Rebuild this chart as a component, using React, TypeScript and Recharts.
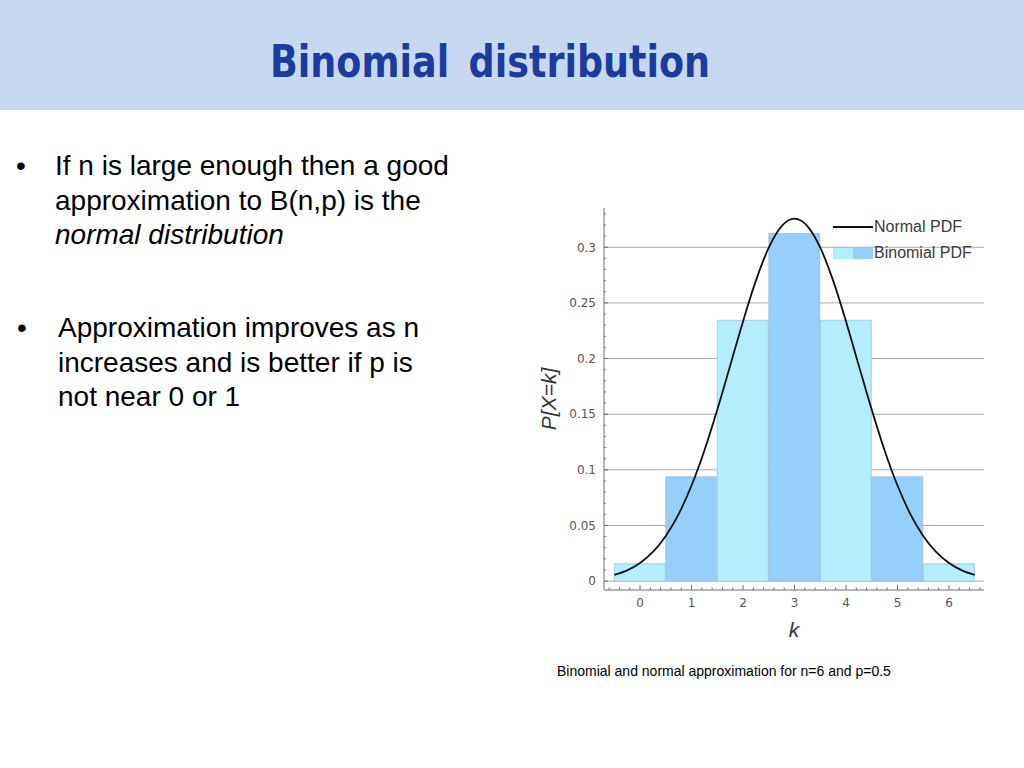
import React from 'react'
import {
  ComposedChart,
  Bar,
  Line,
  XAxis,
  YAxis,
  CartesianGrid,
  Legend,
  Cell,
} from 'recharts'

// binomial n=6, p=0.5
const kValues = [0, 1, 2, 3, 4, 5, 6]
const binomialPdf = [0.0156, 0.0938, 0.2344, 0.3125, 0.2344, 0.0938, 0.0156]

// normal approximation
const curveX = [
  -0.5, -0.25, 0, 0.25, 0.5, 0.75, 1, 1.25, 1.5, 1.75, 2, 2.25, 2.5, 2.75, 3,
  3.25, 3.5, 3.75, 4, 4.25, 4.5, 4.75, 5, 5.25, 5.5, 5.75, 6, 6.25, 6.5,
]
const normalPdf = [
  0.0055, 0.0096, 0.0162, 0.0262, 0.0406, 0.0602, 0.0859, 0.1174, 0.1539, 0.1935,
  0.2334, 0.27, 0.2997, 0.319, 0.3257, 0.319, 0.2997, 0.27, 0.2334, 0.1935, 0.1539,
  0.1174, 0.0859, 0.0602, 0.0406, 0.0262, 0.0162, 0.0096, 0.0055,
]

// labelled ticks
const xTicks = [0, 1, 2, 3, 4, 5, 6]
const yTicks = [0, 0.05, 0.1, 0.15, 0.2, 0.25, 0.3]
// every tick mark on the axes (labelled + minor)
const xAllTicks = [
  -0.6, -0.4, -0.2, 0, 0.2, 0.4, 0.6, 0.8, 1, 1.2, 1.4, 1.6, 1.8, 2, 2.2, 2.4, 2.6,
  2.8, 3, 3.2, 3.4, 3.6, 3.8, 4, 4.2, 4.4, 4.6, 4.8, 5, 5.2, 5.4, 5.6, 5.8, 6, 6.2,
  6.4, 6.6,
]
const yAllTicks = [
  0, 0.01, 0.02, 0.03, 0.04, 0.05, 0.06, 0.07, 0.08, 0.09, 0.1, 0.11, 0.12, 0.13,
  0.14, 0.15, 0.16, 0.17, 0.18, 0.19, 0.2, 0.21, 0.22, 0.23, 0.24, 0.25, 0.26, 0.27,
  0.28, 0.29, 0.3, 0.31, 0.32, 0.33,
]

const X_DOMAIN: [number, number] = [-0.7, 6.68]
const Y_DOMAIN: [number, number] = [-0.008, 0.3353]

const LIGHT = '#b4eefc'
const DARK = '#96d0fa'
const BAR_FILLS = [LIGHT, DARK]
const AXIS = '#6e6e6e'
const SANS = "'Liberation Sans', Arial, sans-serif"
const TICK_FONT = { fill: '#555', fontSize: 12, fontFamily: "'DejaVu Sans', sans-serif" }

const barData = kValues.map((k, i) => ({ k, p: binomialPdf[i] }))
const curveData = curveX.map((x, i) => ({ x, pdf: normalPdf[i] }))

// tickSize/tickMargin are 0, so x,y land on the axis line; marks point into the plot
function XTick(props: any) {
  const { x, y, payload } = props
  const major = xTicks.includes(payload.value)
  return (
    <g>
      <line x1={x} y1={y} x2={x} y2={y - (major ? 5 : 2.5)} stroke={AXIS} strokeWidth={1} />
      {major && (
        <text x={x} y={y + 8} dy="0.71em" textAnchor="middle" {...TICK_FONT}>
          {payload.value}
        </text>
      )}
    </g>
  )
}

function YTick(props: any) {
  const { x, y, payload } = props
  const major = yTicks.includes(payload.value)
  return (
    <g>
      <line x1={x} y1={y} x2={x + (major ? 4 : 2)} y2={y} stroke={AXIS} strokeWidth={1} />
      {major && (
        <text x={x - 8} y={y} dy="0.355em" textAnchor="end" {...TICK_FONT}>
          {payload.value}
        </text>
      )}
    </g>
  )
}

function LegendContent() {
  const row = { display: 'flex', alignItems: 'center', height: 26 } as const
  return (
    <div style={{ fontFamily: SANS, fontSize: 16, color: '#3a3a3a', lineHeight: 1 }}>
      <div style={row}>
        <span style={{ width: 40, borderTop: '2px solid #111', marginRight: 1 }} />
        <span>Normal PDF</span>
      </div>
      <div style={row}>
        <span style={{ width: 20, height: 11, background: LIGHT }} />
        <span style={{ width: 20, height: 11, background: DARK, marginRight: 1 }} />
        <span>Binomial PDF</span>
      </div>
    </div>
  )
}

function BinomialChart() {
  return (
    <ComposedChart
      width={480}
      height={462}
      data={barData}
      margin={{ top: 18, right: 16, bottom: 10, left: 24 }}
      barCategoryGap={0}
      barGap={0}
    >
      {/* grid follows the hidden curve axis, which only carries the labelled ticks */}
      <CartesianGrid vertical={false} yAxisId="curve" syncWithTicks stroke="#a9a9a9" />
      <XAxis
        dataKey="k"
        type="number"
        domain={X_DOMAIN}
        allowDataOverflow
        ticks={xAllTicks}
        interval={0}
        height={52}
        tickSize={0}
        tickMargin={0}
        tickLine={false}
        axisLine={{ stroke: AXIS }}
        tick={<XTick />}
        label={{
          value: 'k',
          position: 'insideBottom',
          offset: 5,
          style: { fontFamily: SANS, fontStyle: 'italic', fontSize: 21, fill: '#333' },
        }}
      />
      <XAxis xAxisId="curve" dataKey="x" type="number" domain={X_DOMAIN} allowDataOverflow hide />
      <YAxis
        type="number"
        domain={Y_DOMAIN}
        allowDataOverflow
        ticks={yAllTicks}
        interval={0}
        width={60}
        tickSize={0}
        tickMargin={0}
        tickLine={false}
        axisLine={{ stroke: AXIS }}
        tick={<YTick />}
        label={{
          value: 'P[X=k]',
          angle: -90,
          position: 'insideLeft',
          offset: 5,
          style: {
            textAnchor: 'middle',
            fontFamily: SANS,
            fontStyle: 'italic',
            fontSize: 21,
            fill: '#333',
          },
        }}
      />
      <YAxis
        yAxisId="curve"
        type="number"
        domain={Y_DOMAIN}
        allowDataOverflow
        ticks={yTicks}
        interval={0}
        hide
      />
      <Legend
        layout="horizontal"
        verticalAlign="middle"
        align="center"
        content={LegendContent}
        wrapperStyle={{ position: 'absolute', top: 24, left: 313, width: 170 }}
      />
      <Bar dataKey="p" name="Binomial PDF" stroke="#97bcd6" strokeWidth={0.7} isAnimationActive={false}>
        {barData.map((d, i) => (
          <Cell key={`bar-${d.k}`} fill={BAR_FILLS[i % 2]} />
        ))}
      </Bar>
      <Line
        xAxisId="curve"
        yAxisId="curve"
        data={curveData}
        dataKey="pdf"
        name="Normal PDF"
        type="monotone"
        stroke="#111"
        strokeWidth={1.8}
        dot={false}
        activeDot={false}
        isAnimationActive={false}
      />
    </ComposedChart>
  )
}

export default function App() {
  const bulletText = { position: 'absolute', fontFamily: SANS, fontSize: 28, lineHeight: '34.5px', color: '#000' } as const
  return (
    <div style={{ position: 'absolute', left: 0, top: 0, width: 1024, height: 768, background: '#fff', overflow: 'hidden' }}>
      <div style={{ position: 'absolute', left: 0, top: 0, width: 1024, height: 110, background: '#c6d9f1' }} />
      <div
        style={{
          position: 'absolute',
          left: 270,
          top: 40,
          fontFamily: "'DejaVu Sans', sans-serif",
          fontWeight: 700,
          fontSize: 44,
          lineHeight: '44px',
          color: '#1d3b9e',
          whiteSpace: 'nowrap',
          wordSpacing: 8,
          transform: 'scaleX(0.83)',
          transformOrigin: 'left top',
        }}
      >
        Binomial distribution
      </div>

      <div style={{ ...bulletText, left: 16, top: 149 }}>•</div>
      <div style={{ ...bulletText, left: 55, top: 149 }}>
        If n is large enough then a good
        <br />
        approximation to B(n,p) is the
        <br />
        <i>normal distribution</i>
      </div>

      <div style={{ ...bulletText, left: 17, top: 311 }}>•</div>
      <div style={{ ...bulletText, left: 58, top: 311 }}>
        Approximation improves as n
        <br />
        increases and is better if p is
        <br />
        not near 0 or 1
      </div>

      <div style={{ position: 'absolute', left: 520, top: 190 }}>
        <BinomialChart />
      </div>

      <div
        style={{
          position: 'absolute',
          left: 557,
          top: 663,
          fontFamily: SANS,
          fontSize: 14,
          lineHeight: '16px',
          color: '#000',
          whiteSpace: 'nowrap',
        }}
      >
        Binomial and normal approximation for n=6 and p=0.5
      </div>
    </div>
  )
}
